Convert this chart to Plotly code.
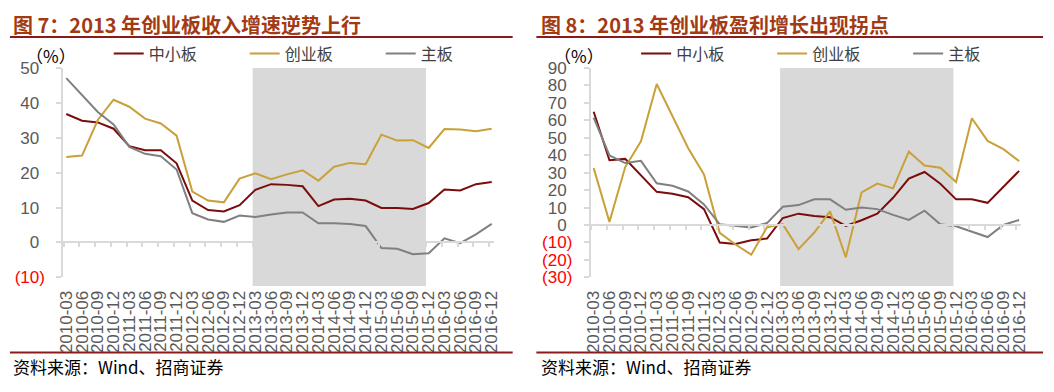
import plotly.graph_objects as go

categories = ["2010-03", "2010-06", "2010-09", "2010-12", "2011-03", "2011-06", "2011-09", "2011-12",
              "2012-03", "2012-06", "2012-09", "2012-12", "2013-03", "2013-06", "2013-09", "2013-12",
              "2014-03", "2014-06", "2014-09", "2014-12", "2015-03", "2015-06", "2015-09", "2015-12",
              "2016-03", "2016-06", "2016-09", "2016-12"]

series_names = ["中小板", "创业板", "主板"]
series_colors = ["#7A0C0C", "#C9A03A", "#808080"]

# Figure 7: revenue growth (%)
rev_sme = [36.8, 34.9, 34.4, 32.6, 27.6, 26.4, 26.4, 22.7, 12.0, 9.3, 8.9, 10.7, 15.1, 16.7,
           16.5, 16.1, 10.4, 12.3, 12.5, 12.0, 9.9, 9.9, 9.6, 11.3, 15.2, 14.9, 16.7, 17.3]
rev_gem = [24.5, 24.9, 35.1, 40.9, 38.9, 35.5, 34.1, 30.6, 14.6, 12.0, 11.5, 18.3, 19.8, 18.1,
           19.5, 20.7, 17.7, 21.7, 22.8, 22.4, 30.9, 29.2, 29.3, 27.1, 32.5, 32.4, 31.9, 32.6]
rev_main = [47.1, 42.4, 37.4, 33.8, 27.4, 25.4, 24.7, 20.9, 8.4, 6.6, 5.9, 7.7, 7.3, 8.0,
            8.6, 8.6, 5.5, 5.5, 5.3, 4.7, -1.6, -1.8, -3.4, -3.1, 1.2, -0.2, 2.3, 5.3]

# Figure 8: profit growth (%)
prof_sme = [64.9, 37.1, 37.9, 28.3, 19.0, 17.9, 15.9, 9.1, -10.0, -10.9, -8.7, -7.8, 4.0, 6.5,
            5.1, 4.5, -0.5, 2.7, 6.5, 15.6, 26.6, 30.4, 23.6, 14.7, 14.7, 12.7, 21.7, 31.0]
prof_gem = [32.6, 1.8, 33.2, 48.0, 80.8, 62.1, 44.0, 29.0, -4.5, -11.2, -17.0, -1.3, 0.5, -13.8,
            -4.3, 7.8, -18.5, 18.7, 23.7, 21.0, 42.0, 34.1, 32.8, 24.6, 61.2, 48.2, 43.5, 36.6]
prof_main = [61.6, 39.9, 35.5, 36.8, 23.9, 22.5, 19.2, 11.8, 0.4, -0.4, -1.4, 1.1, 10.5, 11.4,
             14.7, 14.7, 8.7, 10.0, 9.1, 5.8, 2.9, 8.2, 0.4, -0.7, -3.6, -6.9, 0.0, 2.9]

left_yticks = [-10, 0, 10, 20, 30, 40, 50]
right_yticks = [-30, -20, -10, 0, 10, 20, 30, 40, 50, 60, 70, 80, 90]

shade_start, shade_end = "2013-03", "2015-12"

titles = ["图 7：2013 年创业板收入增速逆势上行", "图 8：2013 年创业板盈利增长出现拐点"]
source_text = "资料来源：Wind、招商证券"
unit_text = "（%）"

W, H = 1054, 392
CJK = "Noto Sans CJK SC"
LAT = "Liberation Sans, Arial"

def px(x):
    return x / W

def py(y):
    return 1 - y / H

def fmt_tick(v):
    if v < 0:
        return '<span style="color:#FF0000">(%d)</span>' % abs(v)
    return '%d<span style="color:rgba(0,0,0,0)">)</span>' % v

panels = [
    dict(data=[rev_sme, rev_gem, rev_main], yticks=left_yticks, x0=58, legend="legend"),
    dict(data=[prof_sme, prof_gem, prof_main], yticks=right_yticks, x0=592, legend="legend2"),
]

plot_w = 436
y_top, y_bot = 62, 282
yb, yt = py(y_bot), py(y_top)
xr = [-0.19, len(categories) - 1 + 0.14]
tick_off = 0.17

fig = go.Figure()
layout = dict(width=W, height=H, margin=dict(l=0, r=0, t=0, b=0), autosize=False,
              paper_bgcolor="white", plot_bgcolor="white", showlegend=True)
shapes = []
annotations = []

for p, pan in enumerate(panels):
    xa = "x" if p == 0 else "x2"
    ya = "y" if p == 0 else "y2"
    za = "x%d" % (3 + p)
    xkey = "xaxis" if p == 0 else "xaxis2"
    ykey = "yaxis" if p == 0 else "yaxis2"
    zkey = "xaxis%d" % (3 + p)
    for name, col, vals in zip(series_names, series_colors, pan["data"]):
        fig.add_trace(go.Scatter(x=categories, y=vals, mode="lines", name=name,
                                 line=dict(color=col, width=2), xaxis=xa, yaxis=ya,
                                 legend=pan["legend"], hoverinfo="skip"))
    fig.add_trace(go.Scatter(x=[0], y=[None], xaxis=za, yaxis=ya, showlegend=False,
                             hoverinfo="skip", mode="lines"))
    dom = [px(pan["x0"]), px(pan["x0"] + plot_w)]
    ymin, ymax = min(pan["yticks"]), max(pan["yticks"])
    layout[xkey] = dict(domain=dom, anchor=ya, type="category", categoryorder="array",
                        categoryarray=categories, range=xr, tickmode="array",
                        tickvals=categories, ticktext=categories, tickangle=-90,
                        showline=False, ticks="", showgrid=False, zeroline=False,
                        ticklabelstandoff=9,
                        tickfont=dict(family=LAT, size=17, color="#595959"))
    layout[ykey] = dict(domain=[yb, yt], anchor=xa, range=[ymin, ymax], tickmode="array",
                        tickvals=pan["yticks"], ticktext=[fmt_tick(v) for v in pan["yticks"]],
                        showline=True, linecolor="#D9D9D9", linewidth=2, ticks="outside",
                        ticklen=5, tickcolor="#D9D9D9", tickwidth=1.5, showgrid=False,
                        zeroline=False, ticklabelstandoff=8,
                        tickfont=dict(family=LAT, size=17, color="#595959"))
    zero_pos = yb + (0 - ymin) / (ymax - ymin) * (yt - yb)
    layout[zkey] = dict(overlaying=xa, anchor="free", position=zero_pos, range=xr,
                        tickmode="array", tickvals=[i - tick_off for i in range(len(categories))],
                        showticklabels=False, showline=True, linecolor="#D9D9D9", linewidth=2,
                        ticks="outside", ticklen=4, tickcolor="#D9D9D9", tickwidth=1.5,
                        showgrid=False, zeroline=False)
    layout[pan["legend"]] = dict(orientation="h", x=px(pan["x0"] + 46), xanchor="left",
                                 y=py(47), yanchor="middle", entrywidth=91,
                                 entrywidthmode="pixels", bgcolor="rgba(0,0,0,0)",
                                 font=dict(family=CJK, size=16, color="#404040"),
                                 traceorder="normal")
    shapes.append(dict(type="rect", xref=xa, yref="paper",
                       x0=categories.index(shade_start) - tick_off,
                       x1=categories.index(shade_end) - tick_off,
                       y0=py(291), y1=yt, fillcolor="#D9D9D9", line=dict(width=0),
                       layer="below"))
    left = 4 if p == 0 else 537
    right = 513 if p == 0 else 1050
    for yy in (29.5, 361):
        shapes.append(dict(type="line", xref="paper", yref="paper", x0=px(left), x1=px(right),
                           y0=py(yy), y1=py(yy), line=dict(color="#8B1A1A", width=2)))
    tx = 5 if p == 0 else 540
    annotations.append(dict(text="<b>%s</b>" % titles[p], xref="paper", yref="paper",
                            x=px(tx), y=py(16), xanchor="left", yanchor="middle",
                            showarrow=False, font=dict(family=CJK, size=20, color="#A33A12")))
    annotations.append(dict(text=source_text, xref="paper", yref="paper",
                            x=px(tx), y=py(376), xanchor="left", yanchor="middle",
                            showarrow=False, font=dict(family=CJK, size=17, color="#000000")))
    ux = 46 if p == 0 else 580
    annotations.append(dict(text=unit_text, xref="paper", yref="paper",
                            x=px(ux), y=py(49), xanchor="center", yanchor="middle",
                            showarrow=False, font=dict(family=CJK, size=17, color="#000000")))

layout["shapes"] = shapes
layout["annotations"] = annotations
fig.update_layout(**layout)
fig.write_html("out.html", config={"displayModeBar": False},
               post_script="document.body.style.margin='0';document.body.style.padding='0';"
                           "document.documentElement.style.overflow='hidden';")
